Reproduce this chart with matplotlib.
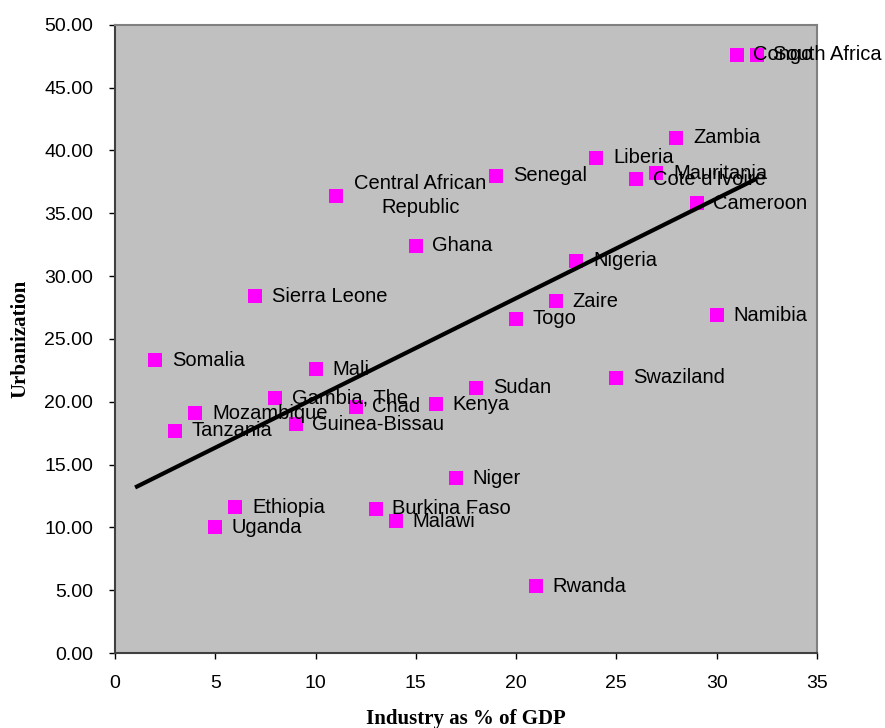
import matplotlib
matplotlib.use("Agg")
import matplotlib.pyplot as plt
import numpy as np

countries = ["Somalia", "Tanzania", "Mozambique", "Uganda", "Ethiopia", "Sierra Leone",
             "Gambia, The", "Guinea-Bissau", "Mali", "Central African\nRepublic", "Chad",
             "Burkina Faso", "Malawi", "Ghana", "Kenya", "Niger", "Sudan", "Senegal", "Togo",
             "Rwanda", "Zaire", "Nigeria", "Liberia", "Swaziland", "Cote d'Ivoire",
             "Mauritania", "Zambia", "Cameroon", "Namibia", "Congo", "South Africa"]
industry = [2, 3, 4, 5, 6, 7, 8, 9, 10, 11, 12, 13, 14, 15, 16, 17, 18, 19, 20,
            21, 22, 23, 24, 25, 26, 27, 28, 29, 30, 31, 32]
urbanization = [23.3, 17.7, 19.1, 10.0, 11.6, 28.4, 20.3, 18.2, 22.6, 36.4, 19.6,
                11.5, 10.5, 32.4, 19.8, 13.9, 21.1, 38.0, 26.6, 5.3, 28.0, 31.2, 39.4,
                21.9, 37.7, 38.2, 41.0, 35.8, 26.9, 47.6, 47.6]
x_ticks = [0, 5, 10, 15, 20, 25, 30, 35]
y_ticks = [0, 5, 10, 15, 20, 25, 30, 35, 40, 45, 50]

fig = plt.figure(figsize=(8.85, 7.28), dpi=100)
ax = fig.add_axes([0.130, 0.103, 0.793, 0.863])
ax.set_facecolor("#C0C0C0")
ax.set_xlim(0, 35)
ax.set_ylim(0, 50)

ax.scatter(industry, urbanization, marker="s", s=95, color="#FF00FF", zorder=3, linewidths=0)

slope, intercept = np.polyfit(industry, urbanization, 1)
xl = np.array([1, 32])
ax.plot(xl, slope * xl + intercept, color="black", lw=3.0, zorder=4, solid_capstyle="butt")

font = "Liberation Sans"
for name, xv, yv in zip(countries, industry, urbanization):
    if "\n" in name:
        ax.annotate(name, (xv, yv), xytext=(61, 0), textcoords="offset points",
                    ha="center", va="center", fontsize=14.5, family=font, color="black",
                    linespacing=1.35, zorder=5)
    else:
        ax.annotate(name, (xv, yv), xytext=(12, 0), textcoords="offset points",
                    ha="left", va="center", fontsize=14.5, family=font, color="black",
                    zorder=5, annotation_clip=False)

ax.set_xticks(x_ticks)
ax.set_xticklabels([str(t) for t in x_ticks], family=font, fontsize=14)
ax.set_yticks(y_ticks)
ax.set_yticklabels([f"{t:.2f}" for t in y_ticks], family=font, fontsize=14)
ax.tick_params(axis="y", direction="out", length=4.3, width=1, color="black", pad=11.5)
ax.tick_params(axis="x", direction="out", length=4.3, width=1, color="black", pad=11.5)

for s in ["top", "right"]:
    ax.spines[s].set_color("#808080")
    ax.spines[s].set_linewidth(1.5)
for s in ["left", "bottom"]:
    ax.spines[s].set_color("#404040")
    ax.spines[s].set_linewidth(1.5)

ax.set_xlabel("Industry as % of GDP", family="Liberation Serif", fontweight="bold",
              fontsize=15, labelpad=12)
ax.set_ylabel("Urbanization", family="Liberation Serif", fontweight="bold",
              fontsize=15, labelpad=10)

fig.savefig("out.png", dpi=100)
